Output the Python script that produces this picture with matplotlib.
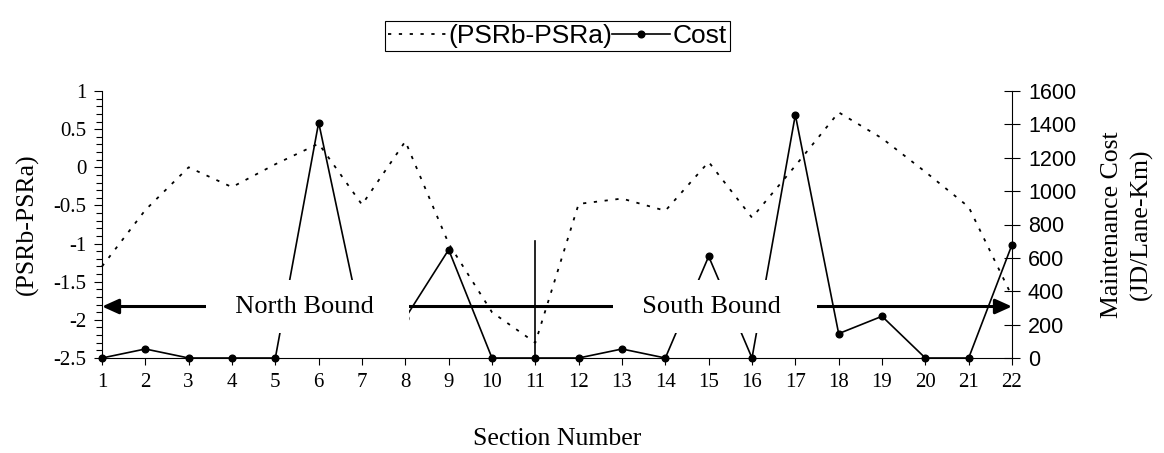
import numpy as np
import matplotlib
matplotlib.use("Agg")
import matplotlib.pyplot as plt
from matplotlib.ticker import MultipleLocator

plt.rcParams['axes.unicode_minus'] = False

# data
sections = list(range(1, 23))
psr_diff = [-1.30, -0.56, 0.00, -0.26, 0.04, 0.31, -0.49, 0.34, -1.00, -1.90, -2.30,
            -0.48, -0.41, -0.57, 0.07, -0.66, 0.02, 0.72, 0.38, -0.06, -0.52, -1.69]
cost = [0, 54, 0, 0, 0, 1411, 190, 240, 649, 0, 0,
        0, 54, 0, 609, 0, 1457, 146, 250, 0, 0, 679]
left_ticks = [1, 0.5, 0, -0.5, -1, -1.5, -2, -2.5]
right_ticks = [0, 200, 400, 600, 800, 1000, 1200, 1400, 1600]

# direction annotations (left-axis units)
split_section = 11
split_top = -0.96
arrow_y = -1.825
north_x = 5.74
south_x = 15.15

serif = 'Liberation Serif'
sans = 'Liberation Sans'

fig = plt.figure(figsize=(11.64, 4.53), dpi=100)
ax = fig.add_axes([102 / 1164, 1 - 358 / 453, 910 / 1164, 267 / 453])
ax2 = ax.twinx()

l1, = ax.plot(sections, psr_diff, color='black', lw=1.3, linestyle=(0, (1.8, 4.2)),
              clip_on=False, label='(PSRb-PSRa)')
l2, = ax2.plot(sections, cost, color='black', lw=1.2, marker='o', markersize=4.8,
               clip_on=False, label='Cost')

ax.set_xlim(1, 22)
ax.set_ylim(-2.5, 1)
ax2.set_ylim(0, 1600)

ax.set_xticks(sections)
ax.set_xticklabels([str(s) for s in sections], family=serif, fontsize=15)
ax.set_yticks(left_ticks)
ax.set_yticklabels([f"{t:g}" for t in left_ticks], family=serif, fontsize=15)
ax.yaxis.set_minor_locator(MultipleLocator(0.1))
ax2.set_yticks(right_ticks)
ax2.set_yticklabels([str(t) for t in right_ticks], family=sans, fontsize=15.5)

ax.tick_params(axis='x', direction='out', length=5, width=0.8, pad=6)
ax.tick_params(axis='y', which='major', direction='out', length=6, width=0.8, pad=5)
ax.tick_params(axis='y', which='minor', direction='out', length=4, width=0.8)
ax2.tick_params(axis='y', direction='inout', length=11, width=0.8, pad=6)

for a in (ax, ax2):
    a.spines['top'].set_visible(False)
    for s in a.spines.values():
        s.set_linewidth(0.8)
ax.spines['right'].set_visible(False)
ax2.spines['left'].set_visible(False)
ax2.spines['bottom'].set_visible(False)

ax.set_xlabel('Section Number', family=serif, fontsize=18.5, labelpad=25.5)
ax.set_ylabel('(PSRb-PSRa)', family=serif, fontsize=18.5, labelpad=11)
ax2.set_ylabel('Maintenance Cost\n(JD/Lane-Km)', family=serif, fontsize=18.5,
               labelpad=18, linespacing=1.36)

# north / south direction arrow, split line and labels drawn over both series
ax2.annotate('', xy=(1, arrow_y), xytext=(22, arrow_y),
             xycoords=ax.transData, textcoords=ax.transData,
             arrowprops=dict(arrowstyle='<|-|>,head_length=1.0,head_width=0.45',
                             lw=2.2, color='black', shrinkA=0, shrinkB=0),
             annotation_clip=False, zorder=4)
ax2.plot([split_section, split_section], [-2.5, split_top], color='black', lw=1.2,
         transform=ax.transData, zorder=4)
box = dict(facecolor='white', edgecolor='none', boxstyle='square,pad=0.6')
ax2.text(north_x, arrow_y, '  North Bound   ', transform=ax.transData, ha='center',
         va='center', family=serif, fontsize=19, bbox=box, zorder=5)
ax2.text(south_x, arrow_y, '  South Bound   ', transform=ax.transData, ha='center',
         va='center', family=serif, fontsize=19, bbox=box, zorder=5)

leg = fig.legend([l1, l2], ['(PSRb-PSRa)', 'Cost'], loc='center',
                 bbox_to_anchor=(0.479, 0.9205), ncol=2, frameon=True,
                 fancybox=False, edgecolor='black', framealpha=1,
                 handlelength=2.2, handletextpad=0.08, columnspacing=0.0,
                 borderpad=0.12, borderaxespad=0, prop={'family': sans, 'size': 19})
leg.get_frame().set_linewidth(0.8)

fig.savefig('out.png', dpi=100)
